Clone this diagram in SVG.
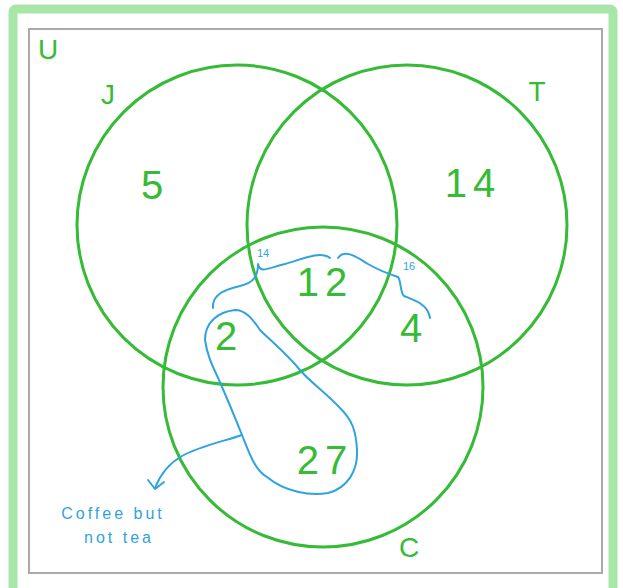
<svg xmlns="http://www.w3.org/2000/svg" width="623" height="588" viewBox="0 0 623 588">
<style>
.set{fill:none;stroke:#36bb36;stroke-width:3}
.lbl{font-family:"Liberation Sans",Arial,sans-serif;fill:#36bb36;text-anchor:middle}
.num{font-size:40px;letter-spacing:6px}
.let{font-size:28px}
.ann{fill:none;stroke:#2fa3dd;stroke-width:2;stroke-linecap:round;stroke-linejoin:round}
.note{font-family:"Liberation Sans",Arial,sans-serif;fill:#2fa3dd;text-anchor:middle}
</style>
<rect x="0" y="0" width="623" height="588" fill="#fff"/>
<rect x="13" y="9" width="600" height="586" fill="none" stroke="#a8e6a8" stroke-width="9" rx="3"/>
<rect x="29" y="29" width="573" height="544" fill="none" stroke="#aaaaaa" stroke-width="2"/>
<text class="lbl let" x="48" y="59">U</text>
<g id="J"><circle class="set" cx="237" cy="225" r="160"/><text class="lbl let" x="108" y="104">J</text><text class="lbl num" x="155" y="199">5</text></g>
<g id="T"><circle class="set" cx="407" cy="225" r="160"/><text class="lbl let" x="537" y="101">T</text><text class="lbl num" x="473" y="197">14</text></g>
<g id="C"><circle class="set" cx="323" cy="387" r="160"/><text class="lbl let" x="409" y="557">C</text><text class="lbl num" x="325" y="474">27</text></g>
<g id="JT-C"><text class="lbl num" x="325" y="296">12</text></g>
<g id="JC"><text class="lbl num" x="229" y="350">2</text></g>
<g id="TC"><text class="lbl num" x="414" y="342">4</text></g>
<g id="connectors">
<path class="ann" d="M213,308 C212,296 222,290 240,286 C252,283 258,278 258,264 C260,274 268,268 285,264 C300,260 320,250 330,258"/>
<path class="ann" d="M338,258 C345,248 358,258 368,264 C382,272 395,276 398,277 C401,280 400,292 404,296 C414,300 428,304 430,318"/>
<path class="ann" d="M235,310 C218,312 205,322 205,340 C208,360 215,370 222,387 C230,405 236,420 242,435 C250,455 255,470 267,477 C285,492 310,496 328,493 C348,488 358,470 357,450 C356,430 352,420 340,408 C325,392 310,382 300,370 C285,352 272,342 260,330 C252,318 245,310 235,310 Z"/>
<path class="ann" d="M242,435 C225,441 200,446 182,456 C168,464 160,475 155,488"/>
<path class="ann" d="M148,480 L155,489 L164,482"/>
<text class="note" x="263" y="257" font-size="11">14</text>
<text class="note" x="409" y="270" font-size="11">16</text>
<text class="note" x="113" y="519" font-size="16" letter-spacing="3">Coffee but</text>
<text class="note" x="119" y="543" font-size="16" letter-spacing="3">not tea</text>
</g>
</svg>
